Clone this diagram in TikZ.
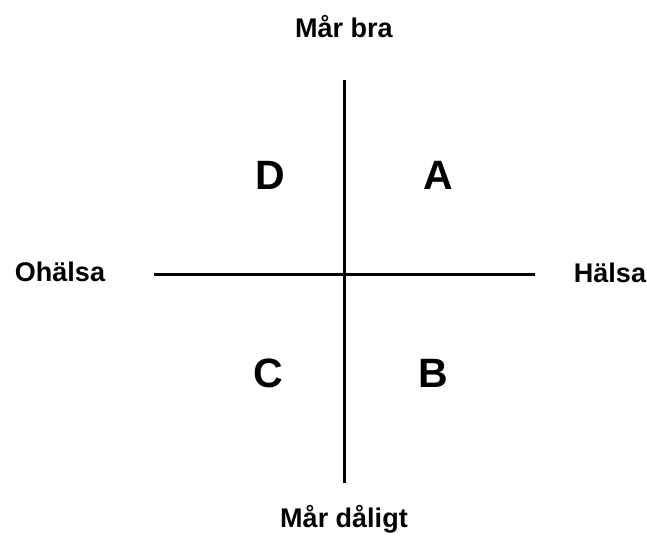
\documentclass[tikz,border=0pt]{standalone}
\usepackage{fontspec}
\setmainfont{Liberation Sans}
\usepackage{tikz}
\usetikzlibrary{positioning}

\begin{document}
\begin{tikzpicture}[
    x=1pt, y=-1pt,
    axislabel/.style={font=\fontsize{27}{30}\selectfont\bfseries, anchor=base, inner sep=0pt},
    quadrant/.style={font=\fontsize{41}{44}\selectfont\bfseries, anchor=base, inner sep=0pt},
    axis/.style={line width=3pt, black}
]
\useasboundingbox (0,0) rectangle (647,544);

\coordinate (top) at (344,80);
\coordinate (bottom) at (344,483);
\coordinate (left) at (154,274);
\coordinate (right) at (535,274);

\node[axislabel] (marbra) at (344,37) {Mår bra};
\node[axislabel] (mardaligt) at (344,527) {Mår dåligt};
\node[axislabel] (ohalsa) at (60,281) {Ohälsa};
\node[axislabel] (halsa) at (610,282) {Hälsa};

\node[quadrant] (qD) at (270,189) {D};
\node[quadrant] (qA) at (438,189) {A};
\node[quadrant] (qC) at (268,387) {C};
\node[quadrant] (qB) at (433,387) {B};

\draw[axis] (top) -- (bottom);
\draw[axis] (left) -- (right);
\end{tikzpicture}
\end{document}
